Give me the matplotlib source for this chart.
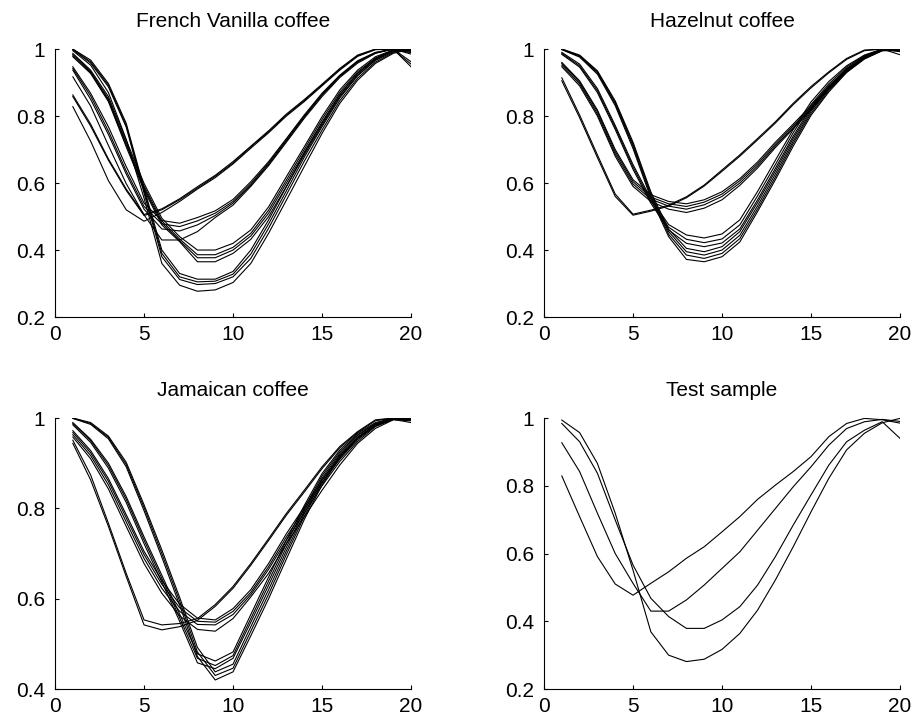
import matplotlib.pyplot as plt

plt.rcParams['font.family'] = ['Liberation Sans', 'DejaVu Sans']

x = list(range(1, 21))

# French Vanilla coffee spectra
fv_a1 = [0.828, 0.725, 0.607, 0.520, 0.486, 0.512, 0.545, 0.582, 0.616, 0.657, 0.704, 0.750, 0.800, 0.843, 0.890, 0.937, 0.978, 0.998, 1.000, 0.947]
fv_a2 = [0.858, 0.770, 0.668, 0.578, 0.503, 0.520, 0.550, 0.585, 0.620, 0.660, 0.708, 0.753, 0.803, 0.846, 0.893, 0.940, 0.980, 0.999, 1.000, 0.962]
fv_a3 = [0.863, 0.776, 0.672, 0.582, 0.506, 0.523, 0.553, 0.589, 0.623, 0.664, 0.710, 0.756, 0.806, 0.849, 0.895, 0.942, 0.982, 1.000, 0.998, 0.955]
fv_b1 = [0.947, 0.868, 0.768, 0.649, 0.540, 0.488, 0.480, 0.497, 0.517, 0.551, 0.604, 0.664, 0.733, 0.803, 0.868, 0.922, 0.965, 0.990, 1.000, 0.995]
fv_b2 = [0.942, 0.860, 0.755, 0.636, 0.530, 0.478, 0.470, 0.487, 0.510, 0.545, 0.598, 0.660, 0.729, 0.800, 0.865, 0.920, 0.963, 0.989, 1.000, 0.993]
fv_b3 = [0.937, 0.850, 0.745, 0.627, 0.522, 0.463, 0.457, 0.475, 0.503, 0.540, 0.594, 0.656, 0.726, 0.797, 0.862, 0.918, 0.961, 0.988, 1.000, 0.990]
fv_b4 = [0.917, 0.830, 0.712, 0.598, 0.505, 0.430, 0.430, 0.455, 0.497, 0.534, 0.590, 0.652, 0.722, 0.793, 0.858, 0.915, 0.958, 0.987, 1.000, 0.985]
fv_c1 = [0.987, 0.937, 0.858, 0.728, 0.599, 0.495, 0.440, 0.400, 0.400, 0.420, 0.460, 0.529, 0.619, 0.708, 0.798, 0.878, 0.937, 0.977, 0.997, 1.000]
fv_c2 = [0.984, 0.933, 0.851, 0.720, 0.591, 0.487, 0.433, 0.386, 0.386, 0.408, 0.450, 0.519, 0.609, 0.700, 0.790, 0.871, 0.932, 0.973, 0.997, 0.998]
fv_c3 = [0.980, 0.930, 0.847, 0.714, 0.585, 0.481, 0.428, 0.377, 0.377, 0.400, 0.442, 0.510, 0.600, 0.692, 0.782, 0.865, 0.927, 0.970, 0.997, 0.995]
fv_c4 = [0.977, 0.927, 0.843, 0.708, 0.579, 0.475, 0.425, 0.365, 0.365, 0.390, 0.432, 0.500, 0.590, 0.684, 0.773, 0.858, 0.922, 0.967, 0.996, 0.990]
fv_d1 = [1.000, 0.967, 0.897, 0.778, 0.585, 0.400, 0.330, 0.313, 0.313, 0.336, 0.400, 0.490, 0.589, 0.689, 0.778, 0.863, 0.927, 0.972, 0.995, 1.000]
fv_d2 = [0.999, 0.962, 0.892, 0.772, 0.578, 0.390, 0.320, 0.305, 0.307, 0.328, 0.388, 0.478, 0.577, 0.677, 0.768, 0.854, 0.920, 0.966, 0.992, 1.000]
fv_d3 = [0.998, 0.958, 0.887, 0.767, 0.570, 0.380, 0.312, 0.297, 0.300, 0.320, 0.375, 0.465, 0.565, 0.665, 0.758, 0.846, 0.913, 0.961, 0.990, 1.000]
fv_d4 = [0.995, 0.952, 0.870, 0.730, 0.555, 0.360, 0.295, 0.277, 0.281, 0.303, 0.360, 0.450, 0.549, 0.649, 0.748, 0.838, 0.907, 0.957, 0.987, 1.000]

# Hazelnut coffee spectra
hz_a1 = [0.914, 0.803, 0.684, 0.567, 0.507, 0.519, 0.534, 0.559, 0.594, 0.639, 0.684, 0.733, 0.783, 0.838, 0.888, 0.932, 0.972, 0.997, 1.000, 0.992]
hz_a2 = [0.905, 0.795, 0.676, 0.560, 0.504, 0.516, 0.531, 0.556, 0.591, 0.635, 0.680, 0.729, 0.779, 0.834, 0.884, 0.929, 0.969, 0.995, 1.000, 0.983]
hz_b1 = [0.960, 0.905, 0.818, 0.700, 0.610, 0.565, 0.545, 0.538, 0.550, 0.574, 0.613, 0.663, 0.722, 0.776, 0.831, 0.890, 0.938, 0.977, 0.997, 1.000]
hz_b2 = [0.957, 0.901, 0.813, 0.694, 0.604, 0.558, 0.538, 0.530, 0.543, 0.567, 0.607, 0.657, 0.716, 0.771, 0.826, 0.886, 0.935, 0.975, 0.996, 0.998]
hz_b3 = [0.952, 0.896, 0.806, 0.687, 0.597, 0.552, 0.531, 0.522, 0.535, 0.560, 0.600, 0.651, 0.711, 0.766, 0.822, 0.883, 0.933, 0.974, 0.996, 0.997]
hz_b4 = [0.947, 0.890, 0.800, 0.680, 0.590, 0.545, 0.522, 0.512, 0.525, 0.550, 0.593, 0.645, 0.706, 0.762, 0.818, 0.880, 0.931, 0.972, 0.995, 0.995]
hz_c1 = [0.990, 0.955, 0.882, 0.772, 0.655, 0.553, 0.476, 0.445, 0.436, 0.448, 0.490, 0.575, 0.668, 0.760, 0.842, 0.903, 0.950, 0.982, 1.000, 0.998]
hz_c2 = [0.987, 0.950, 0.876, 0.766, 0.648, 0.546, 0.468, 0.432, 0.422, 0.433, 0.475, 0.562, 0.655, 0.750, 0.834, 0.896, 0.946, 0.980, 0.999, 0.996]
hz_c3 = [0.984, 0.946, 0.870, 0.760, 0.641, 0.540, 0.460, 0.420, 0.410, 0.421, 0.463, 0.550, 0.644, 0.740, 0.826, 0.890, 0.942, 0.978, 0.998, 0.994]
hz_d1 = [1.000, 0.982, 0.935, 0.845, 0.722, 0.574, 0.462, 0.405, 0.395, 0.410, 0.455, 0.542, 0.636, 0.733, 0.820, 0.886, 0.940, 0.976, 0.997, 1.000]
hz_d2 = [1.000, 0.980, 0.932, 0.841, 0.716, 0.568, 0.455, 0.395, 0.385, 0.400, 0.444, 0.532, 0.627, 0.725, 0.814, 0.881, 0.936, 0.974, 0.996, 1.000]
hz_d3 = [0.999, 0.978, 0.929, 0.836, 0.710, 0.562, 0.447, 0.385, 0.375, 0.390, 0.434, 0.523, 0.618, 0.718, 0.808, 0.876, 0.933, 0.972, 0.996, 1.000]
hz_d4 = [0.998, 0.976, 0.925, 0.831, 0.703, 0.555, 0.440, 0.372, 0.365, 0.380, 0.424, 0.515, 0.610, 0.710, 0.802, 0.872, 0.930, 0.970, 0.995, 0.999]

# Jamaican coffee spectra
jm_a1 = [0.951, 0.874, 0.767, 0.656, 0.553, 0.542, 0.545, 0.556, 0.587, 0.627, 0.678, 0.733, 0.789, 0.840, 0.892, 0.937, 0.970, 0.996, 1.000, 1.000]
jm_a2 = [0.944, 0.863, 0.760, 0.649, 0.542, 0.531, 0.538, 0.552, 0.583, 0.623, 0.674, 0.729, 0.785, 0.836, 0.888, 0.934, 0.968, 0.994, 1.000, 0.998]
jm_b1 = [0.972, 0.928, 0.866, 0.786, 0.705, 0.640, 0.588, 0.557, 0.553, 0.578, 0.620, 0.678, 0.744, 0.803, 0.863, 0.914, 0.955, 0.985, 0.997, 1.000]
jm_b2 = [0.968, 0.923, 0.860, 0.779, 0.698, 0.632, 0.580, 0.550, 0.548, 0.572, 0.614, 0.671, 0.737, 0.797, 0.857, 0.909, 0.952, 0.983, 0.997, 0.998]
jm_b3 = [0.963, 0.917, 0.852, 0.770, 0.689, 0.623, 0.572, 0.543, 0.542, 0.565, 0.609, 0.665, 0.730, 0.790, 0.850, 0.904, 0.948, 0.981, 0.997, 0.996]
jm_b4 = [0.958, 0.910, 0.843, 0.760, 0.678, 0.612, 0.562, 0.532, 0.528, 0.556, 0.604, 0.656, 0.722, 0.781, 0.840, 0.896, 0.944, 0.977, 0.996, 0.994]
jm_c1 = [0.990, 0.953, 0.900, 0.826, 0.737, 0.652, 0.566, 0.478, 0.462, 0.482, 0.565, 0.648, 0.730, 0.806, 0.877, 0.929, 0.966, 0.990, 1.000, 1.000]
jm_c2 = [0.988, 0.950, 0.895, 0.820, 0.730, 0.645, 0.558, 0.468, 0.452, 0.474, 0.556, 0.639, 0.722, 0.800, 0.872, 0.925, 0.963, 0.988, 0.999, 0.998]
jm_c3 = [0.985, 0.946, 0.889, 0.813, 0.722, 0.637, 0.550, 0.458, 0.445, 0.468, 0.548, 0.630, 0.714, 0.794, 0.867, 0.921, 0.961, 0.987, 0.998, 0.996]
jm_d1 = [1.000, 0.990, 0.960, 0.902, 0.808, 0.708, 0.603, 0.492, 0.438, 0.455, 0.538, 0.620, 0.706, 0.788, 0.862, 0.918, 0.958, 0.985, 0.998, 1.000]
jm_d2 = [1.000, 0.988, 0.957, 0.897, 0.802, 0.700, 0.595, 0.482, 0.430, 0.446, 0.528, 0.610, 0.698, 0.782, 0.857, 0.915, 0.956, 0.984, 0.998, 0.999]
jm_d3 = [0.999, 0.986, 0.954, 0.892, 0.795, 0.692, 0.586, 0.472, 0.420, 0.438, 0.518, 0.600, 0.688, 0.775, 0.852, 0.912, 0.955, 0.983, 0.997, 0.990]

# unknown sample
test_a = [0.829, 0.709, 0.591, 0.510, 0.477, 0.512, 0.546, 0.586, 0.620, 0.664, 0.709, 0.760, 0.802, 0.842, 0.886, 0.945, 0.984, 0.999, 0.995, 0.985]
test_b = [0.927, 0.842, 0.719, 0.600, 0.512, 0.430, 0.430, 0.463, 0.507, 0.556, 0.605, 0.669, 0.733, 0.797, 0.856, 0.920, 0.969, 0.989, 0.996, 0.990]
test_c = [0.984, 0.930, 0.837, 0.699, 0.566, 0.468, 0.414, 0.379, 0.379, 0.404, 0.443, 0.507, 0.591, 0.684, 0.773, 0.861, 0.930, 0.964, 0.989, 0.940]
test_d = [0.994, 0.957, 0.866, 0.719, 0.551, 0.369, 0.300, 0.281, 0.288, 0.317, 0.364, 0.433, 0.522, 0.620, 0.723, 0.822, 0.906, 0.955, 0.986, 0.999]

panels = [
    ('French Vanilla coffee',
     [fv_a1, fv_a2, fv_a3, fv_b1, fv_b2, fv_b3, fv_b4, fv_c1, fv_c2, fv_c3, fv_c4, fv_d1, fv_d2, fv_d3, fv_d4],
     [0.0602, 0.5615, 0.3895, 0.3707], (0.2, 1.0)),
    ('Hazelnut coffee',
     [hz_a1, hz_a2, hz_b1, hz_b2, hz_b3, hz_b4, hz_c1, hz_c2, hz_c3, hz_d1, hz_d2, hz_d3, hz_d4],
     [0.5952, 0.5615, 0.3895, 0.3707], (0.2, 1.0)),
    ('Jamaican coffee',
     [jm_a1, jm_a2, jm_b1, jm_b2, jm_b3, jm_b4, jm_c1, jm_c2, jm_c3, jm_d1, jm_d2, jm_d3],
     [0.0602, 0.047, 0.3895, 0.3748], (0.4, 1.0)),
    ('Test sample',
     [test_a, test_b, test_c, test_d],
     [0.5952, 0.047, 0.3895, 0.3748], (0.2, 1.0)),
]

fig = plt.figure(figsize=(9.14, 7.23), dpi=100)

for title, curves, rect, ylim in panels:
    ax = fig.add_axes(rect)
    for y in curves:
        ax.plot(x, y, color='black', lw=0.8)
    ax.set_xlim(0, 20)
    ax.set_ylim(*ylim)
    ax.set_xticks([0, 5, 10, 15, 20])
    yt = [0.2, 0.4, 0.6, 0.8, 1.0] if ylim[0] < 0.3 else [0.4, 0.6, 0.8, 1.0]
    ax.set_yticks(yt)
    ax.set_yticklabels(['1' if v == 1.0 else '%.1f' % v for v in yt])
    for s in ['top', 'right']:
        ax.spines[s].set_visible(False)
    for s in ['left', 'bottom']:
        ax.spines[s].set_linewidth(0.8)
    ax.tick_params(direction='in', length=3, width=0.8, labelsize=15)
    ax.tick_params(axis='x', pad=6)
    ax.tick_params(axis='y', pad=7)
    ax.set_title(title, fontsize=15, pad=16)

fig.savefig('out.png', dpi=100)
